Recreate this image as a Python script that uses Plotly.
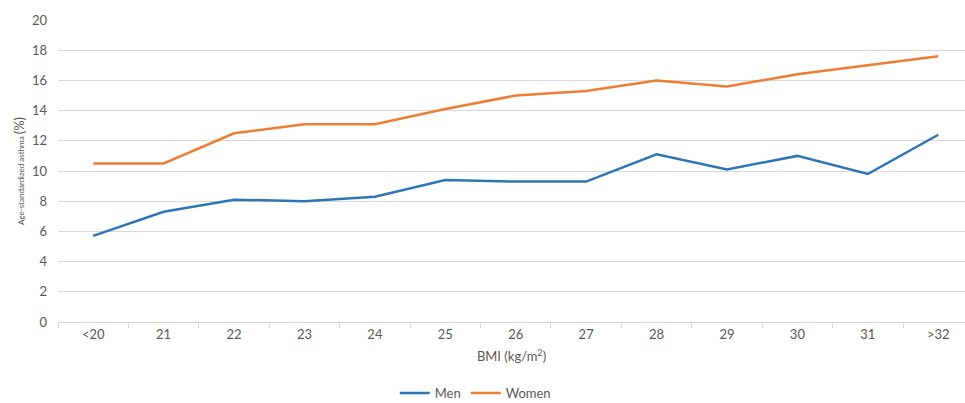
import plotly.graph_objects as go

# BMI categories and age-standardized asthma prevalence (%)
bmi = ["<20", "21", "22", "23", "24", "25", "26", "27", "28", "29", "30", "31", ">32"]
men = [5.7, 7.3, 8.1, 8.0, 8.3, 9.4, 9.3, 9.3, 11.1, 10.1, 11.0, 9.8, 12.4]
women = [10.5, 10.5, 12.5, 13.1, 13.1, 14.1, 15.0, 15.3, 16.0, 15.6, 16.4, 17.0, 17.6]
y_ticks = list(range(0, 21, 2))

TEXT = "#595959"
GRID = "#D9D9D9"
FONT = "Lato, Liberation Sans, sans-serif"

fig = go.Figure()
fig.add_trace(go.Scatter(x=bmi, y=men, name="Men", mode="lines",
                         line=dict(color="#2E75B6", width=2.5)))
fig.add_trace(go.Scatter(x=bmi, y=women, name="Women", mode="lines",
                         line=dict(color="#ED7D31", width=2.5)))

fig.update_layout(
    width=965, height=403,
    margin=dict(l=58, r=0, t=20, b=81, autoexpand=False),
    plot_bgcolor="white", paper_bgcolor="white",
    font=dict(family=FONT, size=12, color=TEXT),
    showlegend=True,
    legend=dict(orientation="h", x=0.46, xanchor="center",
                y=-0.235, yanchor="middle",
                font=dict(size=13, color=TEXT), itemwidth=30),
)
fig.update_xaxes(
    type="category", range=[-0.5, 12.38], automargin=False,
    showgrid=False, showline=True, linecolor=GRID, linewidth=1,
    ticks="outside", tickson="boundaries", ticklen=5, tickcolor=GRID,
    tickfont=dict(size=13, color=TEXT),
    title=dict(text="BMI (kg/m<sup>2</sup>)", font=dict(size=13, color=TEXT), standoff=11),
)
fig.update_yaxes(
    range=[0, 20], tickvals=y_ticks, automargin=False,
    showgrid=True, gridcolor=GRID, gridwidth=1, zeroline=False,
    showline=False, ticks="", ticklabelstandoff=10,
    tickfont=dict(size=13, color=TEXT),
    title=dict(text='<span style="font-size:8px">Age-standardized asthma </span>(%)',
               font=dict(size=13, color=TEXT), standoff=4),
)

fig.write_html("out.html")
